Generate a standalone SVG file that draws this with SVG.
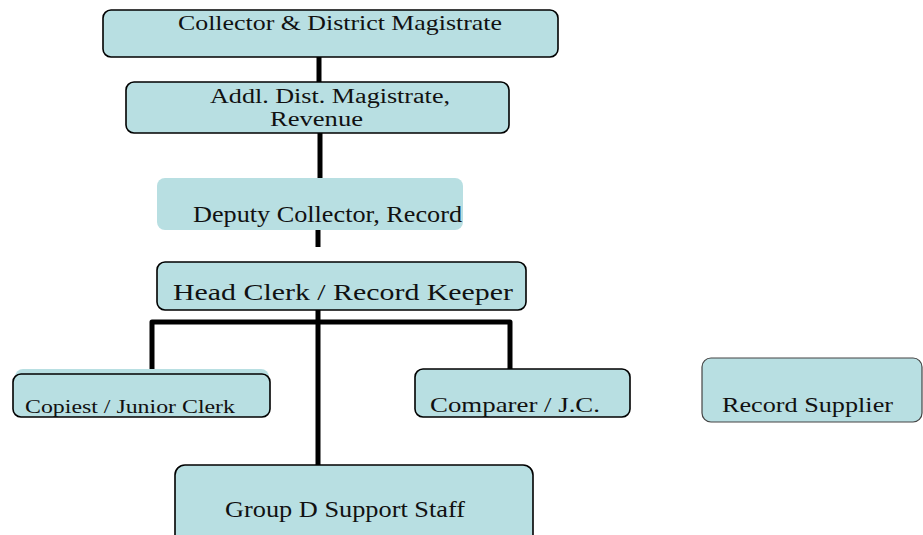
<svg xmlns="http://www.w3.org/2000/svg" width="923" height="535" viewBox="0 0 923 535">
<style>
.box{fill:#b8dfe2;stroke:#000;stroke-width:1.6}
.fill{fill:#b8dfe2;stroke:none}
.t{font-family:"Liberation Serif","DejaVu Serif","Times New Roman",serif;fill:#111}
.c{fill:none;stroke:#000;stroke-width:5;stroke-linejoin:round}
</style>
<rect width="923" height="535" fill="#fff"/>
<g id="connectors">
<path class="c" d="M319 57V82"/>
<path class="c" d="M320 133V178"/>
<path class="c" d="M318 230V247"/>
<path class="c" d="M318 310V465"/>
<path class="c" d="M152 373V322H510V369"/>
</g>
<g id="collector">
<rect class="box" x="103" y="10" width="455" height="47" rx="8"/>
<text class="t" font-family="Liberation Serif, serif" x="178" y="30" font-size="22" textLength="324" lengthAdjust="spacingAndGlyphs">Collector &amp; District Magistrate</text>
</g>
<g id="addl">
<rect class="box" x="126" y="82" width="383" height="51" rx="8"/>
<text class="t" font-family="Liberation Serif, serif" x="210" y="103" font-size="20" textLength="240" lengthAdjust="spacingAndGlyphs">Addl. Dist. Magistrate,</text>
<text class="t" font-family="Liberation Serif, serif" x="270" y="126" font-size="20" textLength="93" lengthAdjust="spacingAndGlyphs">Revenue</text>
</g>
<g id="deputy">
<rect class="fill" x="157" y="178" width="306" height="52" rx="8"/>
<text class="t" font-family="Liberation Serif, serif" x="193" y="222" font-size="23" textLength="269" lengthAdjust="spacingAndGlyphs">Deputy Collector, Record</text>
</g>
<g id="headclerk">
<rect class="box" x="157" y="262" width="369" height="48" rx="8"/>
<text class="t" font-family="Liberation Serif, serif" x="173" y="300" font-size="24" textLength="340" lengthAdjust="spacingAndGlyphs">Head Clerk / Record Keeper</text>
</g>
<g id="copiest">
<rect class="fill" x="15" y="369" width="254" height="44" rx="8"/>
<rect class="box" x="13" y="374" width="257" height="43" rx="8"/>
<text class="t" font-family="Liberation Serif, serif" x="25" y="413" font-size="19" textLength="210" lengthAdjust="spacingAndGlyphs">Copiest / Junior Clerk</text>
</g>
<g id="comparer">
<rect class="box" x="415" y="369" width="215" height="48" rx="8"/>
<text class="t" font-family="Liberation Serif, serif" x="430" y="412" font-size="22" textLength="170" lengthAdjust="spacingAndGlyphs">Comparer / J.C.</text>
</g>
<g id="supplier">
<rect x="702" y="358" width="220" height="64" rx="9" fill="#b8dfe2" stroke="#444" stroke-width="1.2"/>
<text class="t" font-family="Liberation Serif, serif" x="722" y="412" font-size="22" textLength="171" lengthAdjust="spacingAndGlyphs">Record Supplier</text>
</g>
<g id="groupd">
<rect class="box" x="175" y="465" width="358" height="80" rx="10"/>
<text class="t" font-family="Liberation Serif, serif" x="225" y="517" font-size="23" textLength="240" lengthAdjust="spacingAndGlyphs">Group D Support Staff</text>
</g>
</svg>
